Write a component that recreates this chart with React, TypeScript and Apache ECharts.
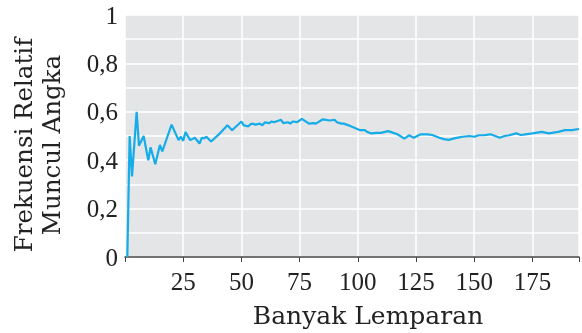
import React, { useEffect, useRef } from "react";
import * as echarts from "echarts";

const throwsN = [
  1, 2, 3, 5, 6, 8, 10, 11, 13, 15, 16, 20, 23, 24, 25, 26, 28, 30, 32, 33,
  34, 35, 36, 37, 41, 44, 46, 50, 51, 53, 54, 55, 56, 58, 59, 60, 62, 63, 64,
  67, 68, 70, 71, 72, 74, 76, 79, 81, 82, 85, 88, 90, 91, 93, 94, 96, 98, 101,
  103, 104, 105, 106, 108, 110, 113, 114, 117, 120, 122, 124, 127, 130, 132,
  135, 137, 139, 141, 143, 145, 148, 150, 152, 154, 157, 159, 161, 163, 165,
  168, 170, 172, 175, 179, 182, 186, 189, 192, 195,
];
const relFreq = [
  0, 0.5, 0.333, 0.6, 0.46, 0.5, 0.4, 0.453, 0.383, 0.463, 0.436, 0.547, 0.483,
  0.497, 0.48, 0.516, 0.483, 0.493, 0.469, 0.493, 0.49, 0.497, 0.487, 0.477,
  0.513, 0.544, 0.524, 0.56, 0.544, 0.54, 0.549, 0.551, 0.547, 0.551, 0.544,
  0.556, 0.553, 0.56, 0.557, 0.567, 0.553, 0.557, 0.551, 0.56, 0.557, 0.571,
  0.551, 0.553, 0.551, 0.569, 0.564, 0.567, 0.557, 0.551, 0.551, 0.544, 0.536,
  0.524, 0.524, 0.517, 0.513, 0.511, 0.513, 0.513, 0.52, 0.517, 0.507, 0.489,
  0.503, 0.493, 0.507, 0.507, 0.504, 0.493, 0.487, 0.484, 0.489, 0.493, 0.497,
  0.5, 0.497, 0.503, 0.503, 0.507, 0.5, 0.493, 0.5, 0.503, 0.511, 0.504, 0.507,
  0.511, 0.517, 0.511, 0.517, 0.524, 0.524, 0.529,
];
const xTicks = [25, 50, 75, 100, 125, 150, 175];
const xName = "Banyak Lemparan";
const yName = "Frekuensi Relatif\nMuncul Angka";

export default function App() {
  const ref = useRef<HTMLDivElement>(null);
  useEffect(() => {
    if (!ref.current) return;
    const chart = echarts.init(ref.current, null, { renderer: "svg" });
    const data = throwsN.map((n, i) => [n, relFreq[i]]);
    chart.setOption({
      animation: false,
      grid: {
        left: 125,
        right: 0,
        top: 15,
        bottom: 68,
        show: true,
        backgroundColor: "#e4e5e7",
        borderWidth: 0,
      },
      xAxis: {
        type: "value",
        min: 0,
        max: 195,
        interval: 25,
        name: xName,
        nameLocation: "middle",
        nameGap: 46,
        nameTextStyle: {
          fontFamily: "DejaVu Serif",
          fontSize: 25,
          color: "#222",
          padding: [0, 0, 0, 32],
        },
        axisLine: { show: true, lineStyle: { color: "#444", width: 1.5 } },
        axisTick: { show: true, length: 5, lineStyle: { color: "#444" } },
        axisLabel: {
          fontFamily: "Liberation Serif",
          fontSize: 25,
          color: "#222",
          margin: 12,
          formatter: (v: number) => (xTicks.includes(v) ? String(v) : ""),
        },
        splitLine: { show: true, lineStyle: { color: "#ffffff", width: 1.5 } },
      },
      yAxis: {
        type: "value",
        min: 0,
        max: 1,
        interval: 0.2,
        name: yName,
        nameLocation: "middle",
        nameGap: 60,
        nameTextStyle: {
          fontFamily: "DejaVu Serif",
          fontSize: 24.5,
          color: "#222",
          lineHeight: 28,
          padding: [0, 18, 0, 0],
        },
        axisLine: { show: false },
        axisTick: { show: false },
        axisLabel: {
          fontFamily: "Liberation Serif",
          fontSize: 25,
          color: "#222",
          margin: 7,
          formatter: (v: number) => String(Math.round(v * 10) / 10).replace(".", ","),
        },
        splitLine: { show: true, lineStyle: { color: "#ffffff", width: 1.5 } },
        minorTick: { show: false, splitNumber: 2 },
        minorSplitLine: { show: true, lineStyle: { color: "#ffffff", width: 1.5 } },
      },
      series: [
        {
          type: "line",
          data,
          showSymbol: false,
          symbol: "none",
          lineStyle: { color: "#16ace8", width: 2.2 },
        },
      ],
    });
    return () => chart.dispose();
  }, []);
  return (
    <div
      ref={ref}
      style={{ position: "fixed", left: 0, top: 0, width: 582, height: 333 }}
    />
  );
}
